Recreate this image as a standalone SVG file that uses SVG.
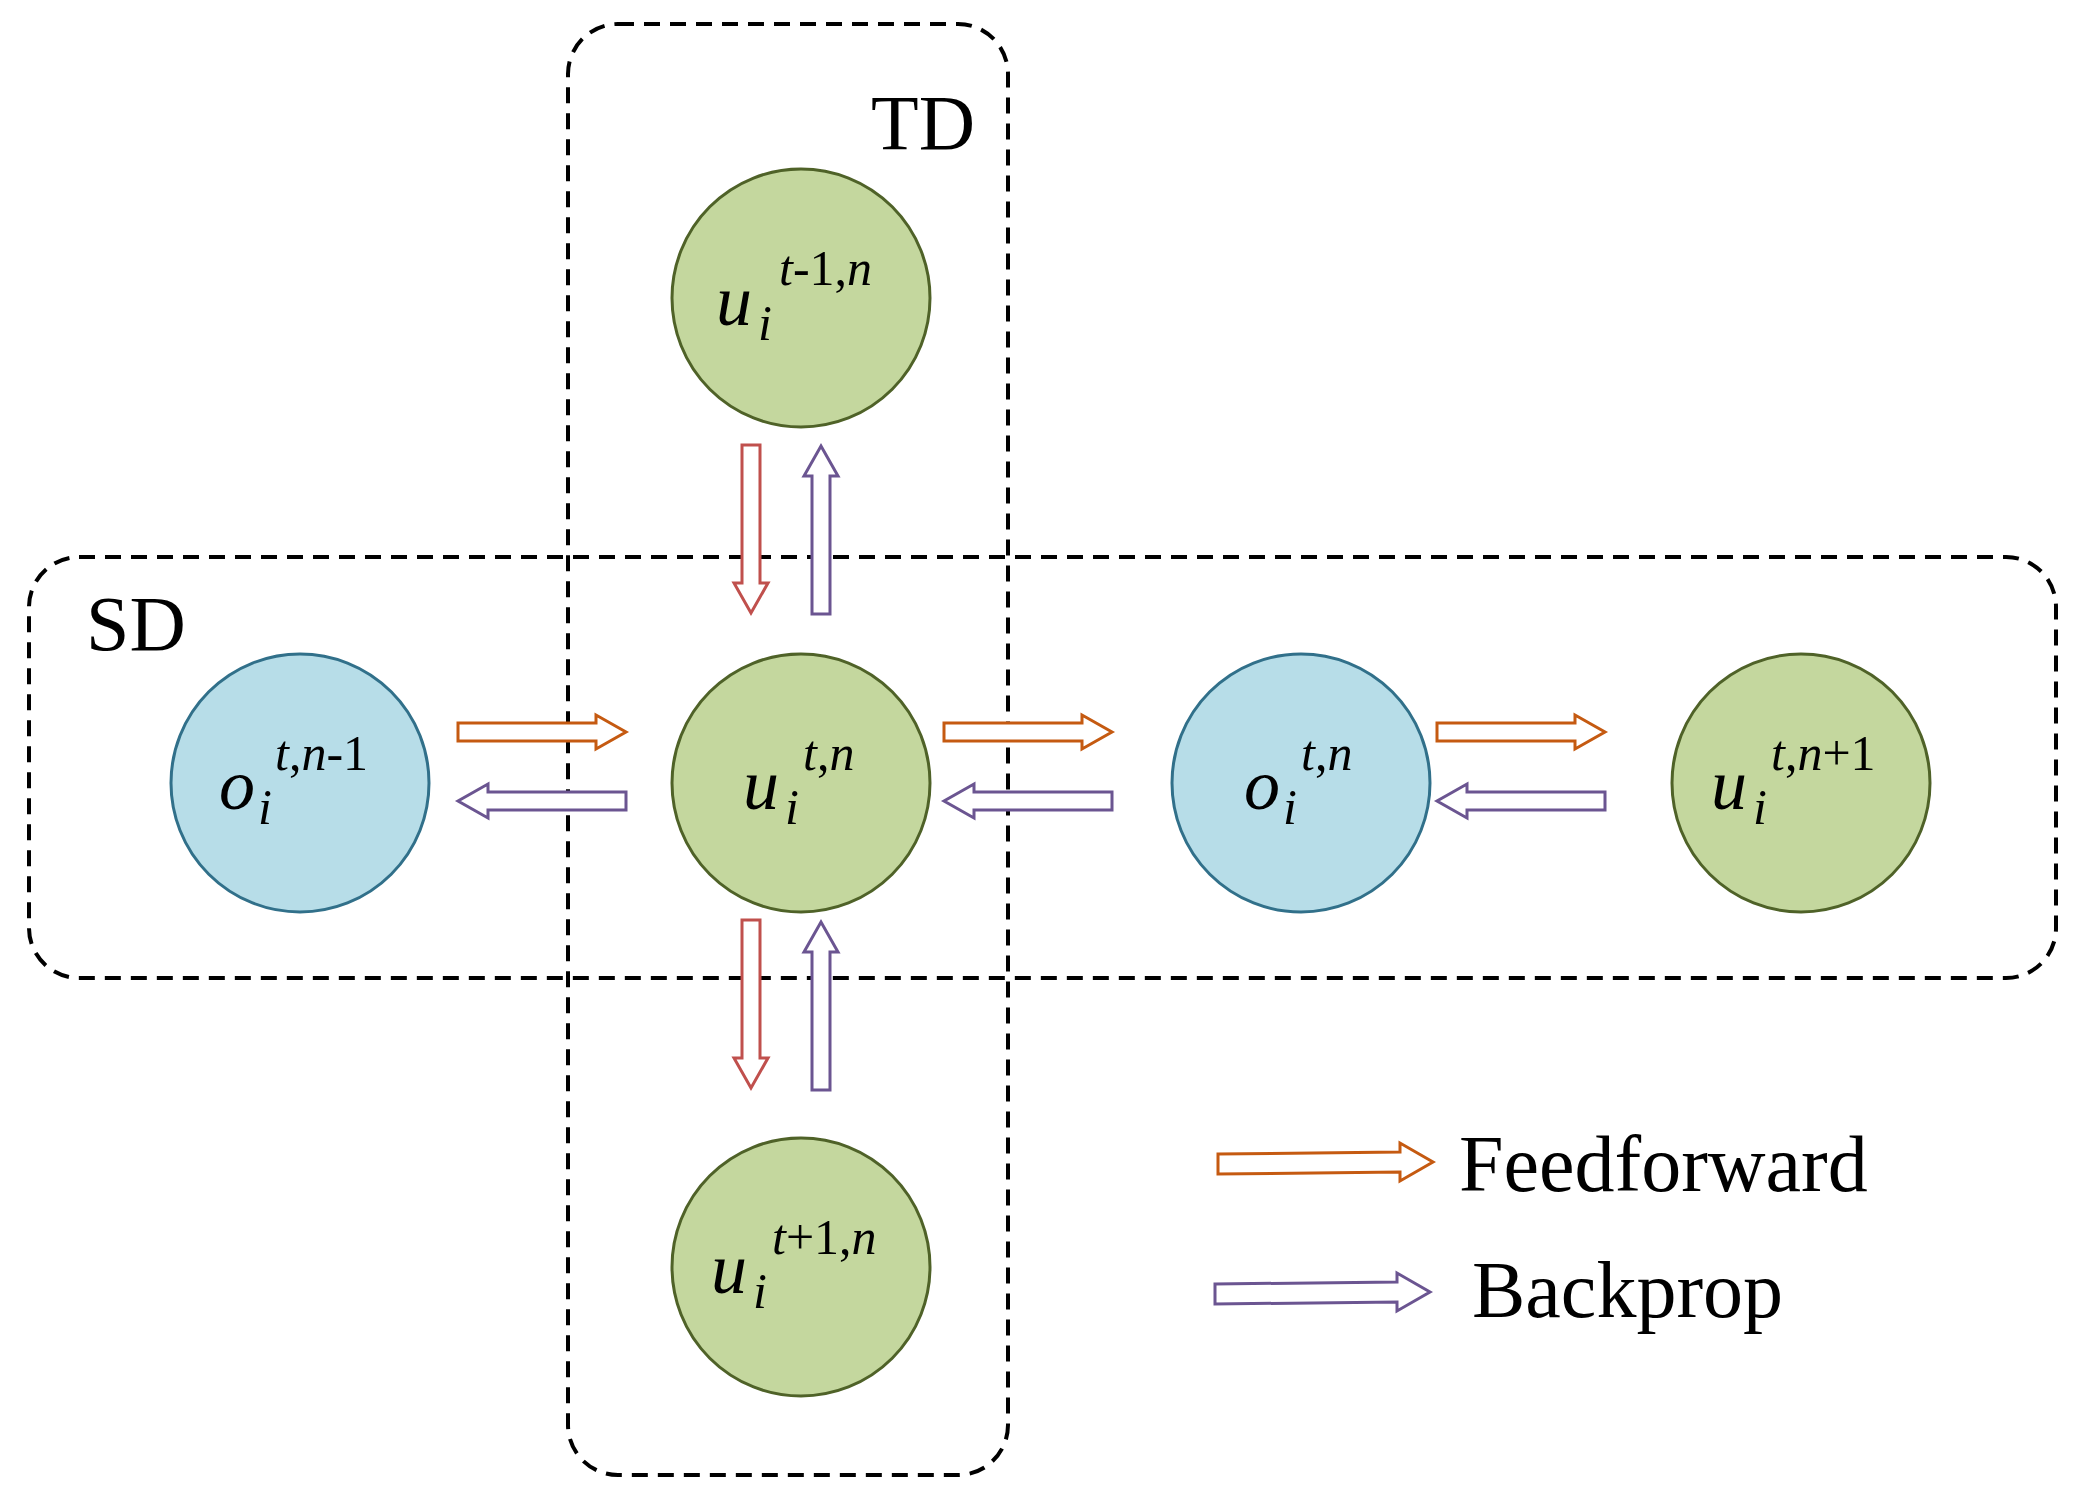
<svg xmlns="http://www.w3.org/2000/svg" width="2080" height="1504" viewBox="0 0 2080 1504">
<style>
.box{fill:none;stroke:#000;stroke-width:4;stroke-dasharray:16 10}
.g{fill:#c4d79e;stroke:#4f6228;stroke-width:3}
.b{fill:#b7dde8;stroke:#31708a;stroke-width:3}
.t{font-family:"Liberation Serif",serif;fill:#000}
.m{font-family:"Liberation Serif",serif;font-style:italic;font-size:72px}
.s{font-family:"Liberation Serif",serif;font-style:italic;font-size:50px}
.up{font-style:normal}
.ff{fill:#fff;stroke:#c55a11;stroke-width:3}
.rd{fill:#fff;stroke:#c0504d;stroke-width:3}
.bp{fill:#fff;stroke:#6b5591;stroke-width:3}
</style>
<defs>
<path id="ar" d="M0,-9 L138,-9 L138,-17 L168,0 L138,17 L138,9 L0,9 Z"/>
</defs>
<g id="TD"><rect class="box" x="568" y="24" width="440" height="1451" rx="50"/><text class="t" x="975" y="149" font-size="78" text-anchor="end">TD</text></g>
<g id="SD"><rect class="box" x="29" y="557" width="2027" height="421" rx="50"/><text class="t" x="86" y="650" font-size="78">SD</text></g>
<g id="connectors">
<use href="#ar" class="ff" transform="translate(458,732)"/>
<use href="#ar" class="bp" transform="translate(626,801) rotate(180)"/>
<use href="#ar" class="ff" transform="translate(944,732)"/>
<use href="#ar" class="bp" transform="translate(1112,801) rotate(180)"/>
<use href="#ar" class="ff" transform="translate(1437,732)"/>
<use href="#ar" class="bp" transform="translate(1605,801) rotate(180)"/>
<use href="#ar" class="rd" transform="translate(751,445) rotate(90)"/>
<use href="#ar" class="bp" transform="translate(821,614) rotate(-90)"/>
<use href="#ar" class="rd" transform="translate(751,920) rotate(90)"/>
<use href="#ar" class="bp" transform="translate(821,1090) rotate(-90)"/>
</g>
<g id="n_top"><circle class="g" cx="801" cy="298" r="129"/><text class="m" x="716" y="325">u</text><text class="s" x="758" y="340">i</text><text class="s" x="779" y="285">t<tspan class="up">-1,</tspan>n</text></g>
<g id="o_left"><circle class="b" cx="300" cy="783" r="129"/><text class="m" x="219" y="809">o</text><text class="s" x="258" y="824">i</text><text class="s" x="275" y="770">t<tspan class="up">,</tspan>n<tspan class="up">-1</tspan></text></g>
<g id="u_center"><circle class="g" cx="801" cy="783" r="129"/><text class="m" x="743" y="809">u</text><text class="s" x="785" y="824">i</text><text class="s" x="803" y="770">t<tspan class="up">,</tspan>n</text></g>
<g id="o_right"><circle class="b" cx="1301" cy="783" r="129"/><text class="m" x="1244" y="809">o</text><text class="s" x="1283" y="824">i</text><text class="s" x="1301" y="770">t<tspan class="up">,</tspan>n</text></g>
<g id="u_right"><circle class="g" cx="1801" cy="783" r="129"/><text class="m" x="1711" y="809">u</text><text class="s" x="1753" y="824">i</text><text class="s" x="1771" y="770">t<tspan class="up">,</tspan>n<tspan class="up">+1</tspan></text></g>
<g id="n_bottom"><circle class="g" cx="801" cy="1267" r="129"/><text class="m" x="711" y="1293">u</text><text class="s" x="753" y="1308">i</text><text class="s" x="772" y="1254">t<tspan class="up">+1,</tspan>n</text></g>
<g id="legend">
<path class="ff" d="M1218,1154 L1400,1152 L1400,1143 L1433,1162 L1400,1181 L1400,1172 L1218,1174 Z"/>
<text class="t" x="1459" y="1191" font-size="80">Feedforward</text>
<path class="bp" d="M1215,1284 L1397,1282 L1397,1273 L1430,1292 L1397,1311 L1397,1302 L1215,1304 Z"/>
<text class="t" x="1472" y="1317" font-size="80">Backprop</text>
</g>
</svg>
